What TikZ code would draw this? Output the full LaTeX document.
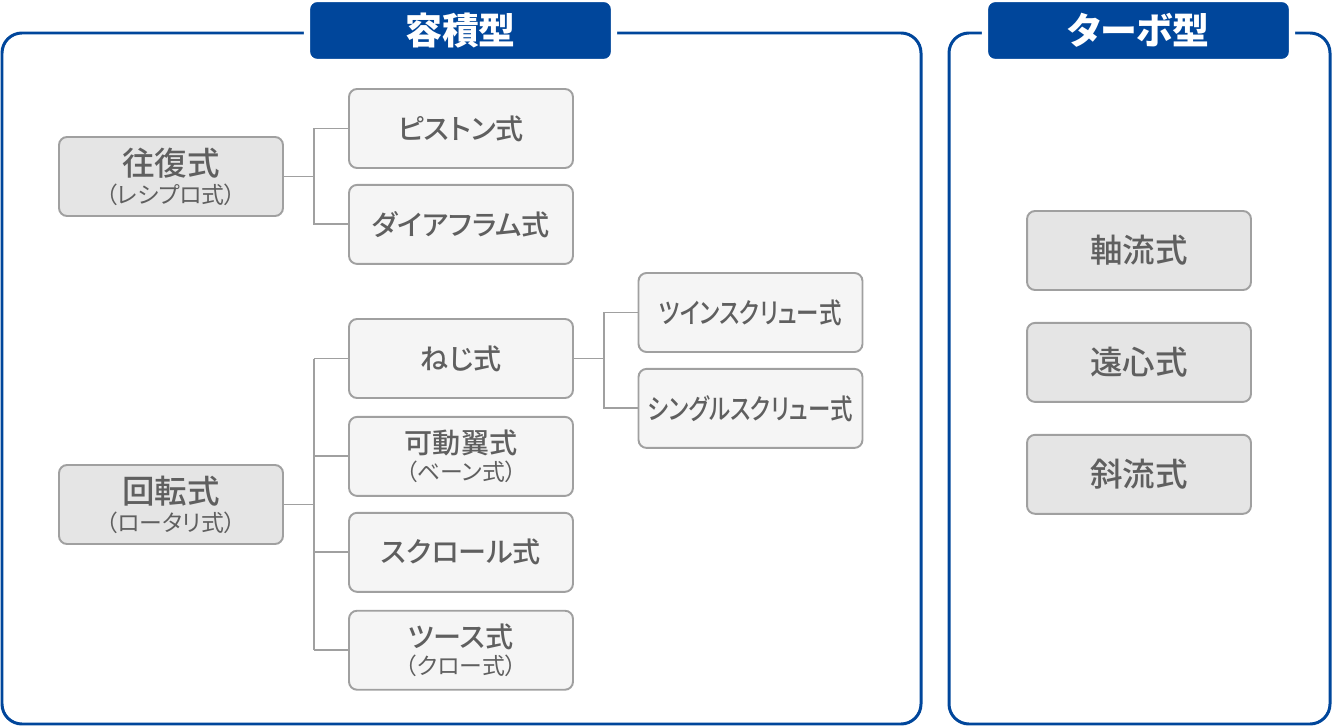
\documentclass[tikz,border=0pt]{standalone}
\usepackage{fontspec}
\usetikzlibrary{positioning}
\newfontfamily\jp[RawFeature=+palt]{Noto Sans CJK JP}
\newfontfamily\jpmed[RawFeature=+palt]{Noto Sans CJK JP Medium}
\definecolor{navy}{RGB}{0, 70, 155}
\definecolor{boxline}{RGB}{160, 160, 160}
\definecolor{labeltext}{RGB}{95, 95, 95}
\newcommand{\subtext}[1]{{\jp\fontsize{13}{15}\selectfont #1}}
\newcommand{\narrow}[1]{\scalebox{0.8}[1]{#1}}

\begin{document}
\begin{tikzpicture}[x=0.02cm, y=-0.02cm,
    frame/.style={draw=navy, line width=1.7pt, rounded corners=0.4cm},
    tab/.style={fill=navy, draw=white, line width=3.5pt, rounded corners=0.2cm, minimum width=6.14cm, minimum height=1.26cm, text=white, font=\jp\bfseries\fontsize{21}{21}\selectfont},
    catbox/.style={draw=boxline, fill=black!10, line width=1.1pt, rounded corners=0.16cm, minimum width=4.48cm, minimum height=1.58cm, align=center, text=labeltext, font=\jpmed\fontsize{18.5}{19}\selectfont},
    subbox/.style={catbox, fill=black!4, font=\jpmed\fontsize{16}{18}\selectfont}]
\tikzset{conn/.style={draw=boxline, line width=1.1pt}}
\useasboundingbox (0,0) rectangle (1332,726);

% frames
\draw[frame] (2,33) rectangle (921,724);
\draw[frame] (949,33) rectangle (1330,724);
\node[tab] (vol) at (460.5,30.5) {容積型};
\node[tab] (turbo) at (1138.5,30.5) {ターボ型};

% reciprocating
\node[catbox] (recip) at (171,176.5) {往復式\\[-3pt]\subtext{（レシプロ式）}};
\node[subbox] (piston) at (461,128.5) {ピストン式};
\node[subbox, below=0.30cm of piston] (diaph) {ダイアフラム式};

% rotary
\node[catbox] (rotary) at (171,504.5) {回転式\\[-3pt]\subtext{（ロータリ式）}};
\node[subbox] (screw) at (461,358.5) {ねじ式};
\node[subbox, below=0.34cm of screw] (vane) {可動翼式\\[-3pt]\subtext{（ベーン式）}};
\node[subbox, below=0.30cm of vane] (scroll) {スクロール式};
\node[subbox, below=0.34cm of scroll] (tooth) {ツース式\\[-3pt]\subtext{（クロー式）}};
\node[subbox] (twin) at (750.5,312.5) {\narrow{ツインスクリュー式}};
\node[subbox, below=0.30cm of twin] (single) {\narrow{シングルスクリュー式}};

% turbo
\node[catbox] (axial) at (1139,250.5) {軸流式};
\node[catbox, below=0.62cm of axial] (centri) {遠心式};
\node[catbox, below=0.62cm of centri] (mixed) {斜流式};

% connectors
\draw[conn] (recip.east) -- ++(30,0) coordinate (j1) |- (piston.west);
\draw[conn] (j1) |- (diaph.west);
\draw[conn] (rotary.east) -- ++(30,0) coordinate (j2);
\draw[conn] (j2 |- screw.west) -- (j2 |- tooth.west);
\foreach \n in {screw, vane, scroll, tooth}
  \draw[conn] (j2 |- \n.west) -- (\n.west);
\draw[conn] (screw.east) -- ++(30,0) coordinate (j3) |- (twin.west);
\draw[conn] (j3) |- (single.west);
\end{tikzpicture}
\end{document}
